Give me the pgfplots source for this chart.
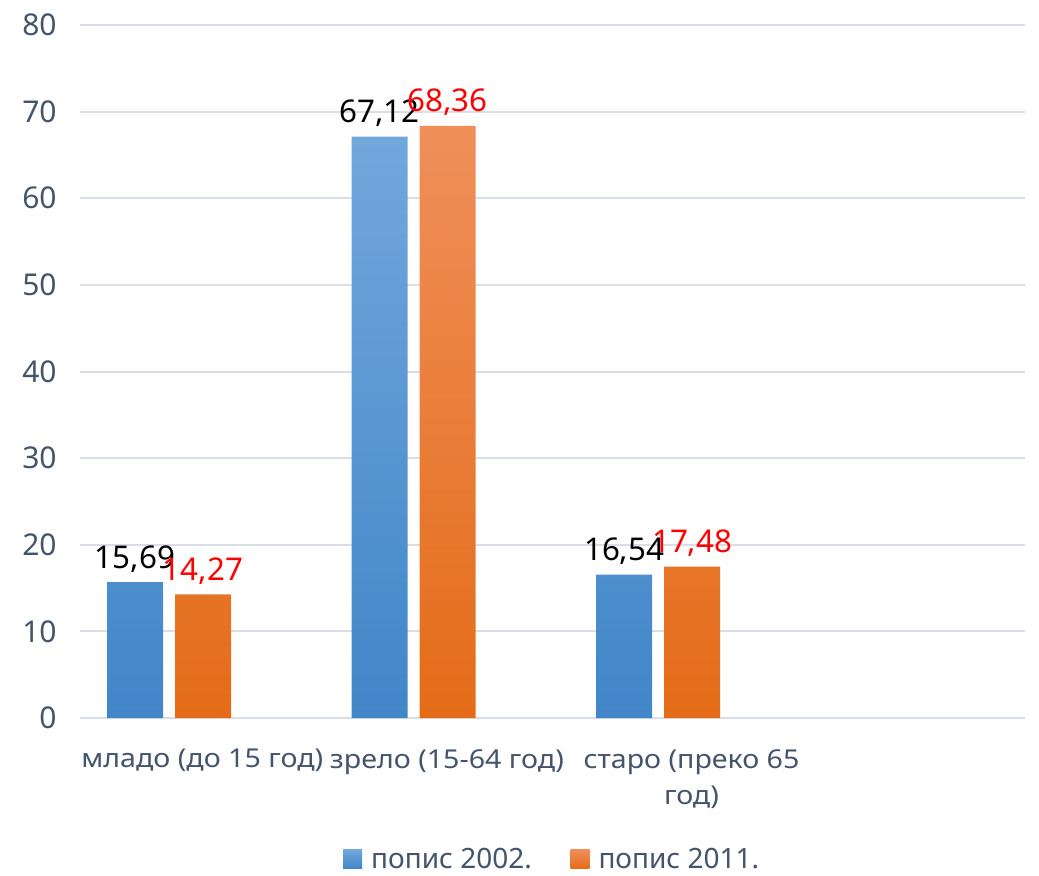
\documentclass[border=0pt]{standalone}
\usepackage{fontspec}
\setmainfont{Noto Sans}
\newfontfamily\condfont[FakeStretch=1.1]{Noto Sans}
\usepackage{pgfplots}
\pgfplotsset{compat=1.18}
\definecolor{tickc}{HTML}{44546A}
\definecolor{gridc}{HTML}{D9DEE6}
\definecolor{bluetop}{HTML}{72A7DC}
\definecolor{bluemid}{HTML}{599CDD}
\definecolor{bluebot}{HTML}{4186C8}
\definecolor{ortop}{HTML}{F08F5A}
\definecolor{ormid}{HTML}{F47F2C}
\definecolor{orbot}{HTML}{E46C18}
\begin{document}
\begin{tikzpicture}
\begin{axis}[
  scale only axis, width=708.75pt, height=519.75pt,
  ybar=9pt, bar width=42pt,
  xmin=-0.364, xmax=3.5, ymin=0, ymax=80,
  ytick={0,10,...,80},
  xtick={0,1,2},
  xticklabels={младо (до 15 год), зрело (15-64 год), {старо (преко 65\\год)}},
  axis line style={draw=none},
  major tick length=0pt,
  ymajorgrids, grid style={gridc, line width=1.5pt},
  /pgf/number format/assume math mode=true,
  /pgf/number format/use comma,
  /pgf/number format/1000 sep={},
  yticklabel style={font=\fontsize{22.5}{26}\selectfont, text=tickc, anchor=east, xshift=-14pt},
  xticklabel style={font=\condfont\fontsize{19.5}{27}\selectfont, text=tickc, align=center, anchor=north, xshift=25pt, yshift=-20pt},
  nodes near coords={\pgfmathprintnumber[fixed,fixed zerofill,precision=2,use comma]{\pgfplotspointmeta}},
  every node near coord/.append style={font=\fontsize{23.5}{27}\selectfont, yshift=4pt},
  legend style={at={(0.5,-0.2040)}, anchor=center, draw=none, legend columns=2,
    font=\fontsize{21}{25}\selectfont, text=tickc, inner sep=1pt,
    /tikz/every even column/.append style={column sep=27pt}},
]
\addplot[draw=none, top color=bluetop, middle color=bluemid, bottom color=bluebot,
  every node near coord/.append style={text=black},
  legend image code/.code={\path[top color=bluetop, bottom color=bluebot, draw=none] (0pt,-7pt) rectangle (14.25pt,7.25pt); \path (19pt,0pt);}]
  coordinates {(0,15.69) (1,67.12) (2,16.54)};
\addlegendentry{попис 2002.}
\addplot[draw=none, top color=ortop, middle color=ormid, bottom color=orbot,
  every node near coord/.append style={text=red},
  legend image code/.code={\path[top color=ortop, bottom color=orbot, draw=none] (0pt,-7pt) rectangle (14.25pt,7.25pt); \path (19pt,0pt);}]
  coordinates {(0,14.27) (1,68.36) (2,17.48)};
\addlegendentry{попис 2011.}
\end{axis}
\pgfresetboundingbox
\path[use as bounding box] ([xshift=-60pt,yshift=-117.75pt]current axis.south west) rectangle ([xshift=719.25pt,yshift=538.5pt]current axis.south west);
\end{tikzpicture}
\end{document}
